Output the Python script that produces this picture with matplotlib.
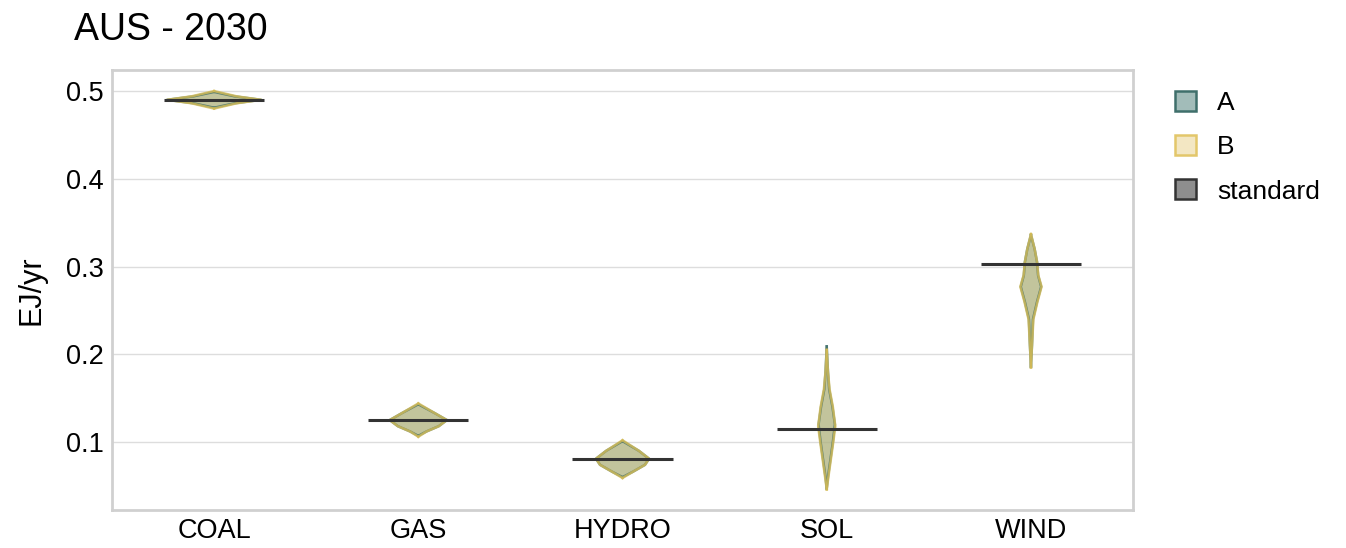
import matplotlib
matplotlib.use("Agg")
import matplotlib.pyplot as plt
from matplotlib.patches import Patch

categories = ["COAL", "GAS", "HYDRO", "SOL", "WIND"]
standard = [0.490, 0.125, 0.081, 0.115, 0.303]
# violin outlines: (value, half-width in category units)
profile_A = {
    "COAL": [(0.481, 0.0), (0.486, 0.10), (0.490, 0.23), (0.494, 0.10), (0.499, 0.0)],
    "GAS": [(0.107, 0.0), (0.112, 0.04), (0.118, 0.10), (0.125, 0.14), (0.133, 0.08), (0.143, 0.0)],
    "HYDRO": [(0.060, 0.0), (0.066, 0.05), (0.074, 0.11), (0.081, 0.13), (0.090, 0.08), (0.101, 0.0)],
    "SOL": [(0.047, 0.0), (0.060, 0.006), (0.080, 0.018), (0.100, 0.030), (0.120, 0.040),
            (0.140, 0.028), (0.160, 0.012), (0.180, 0.006), (0.209, 0.0)],
    "WIND": [(0.186, 0.0), (0.210, 0.005), (0.240, 0.010), (0.260, 0.030), (0.277, 0.050),
             (0.290, 0.035), (0.305, 0.030), (0.320, 0.018), (0.336, 0.0)],
}
profile_B = {
    "COAL": [(0.480, 0.0), (0.486, 0.11), (0.490, 0.23), (0.494, 0.11), (0.500, 0.0)],
    "GAS": [(0.106, 0.0), (0.112, 0.04), (0.118, 0.10), (0.125, 0.14), (0.133, 0.08), (0.144, 0.0)],
    "HYDRO": [(0.059, 0.0), (0.066, 0.05), (0.074, 0.11), (0.081, 0.13), (0.090, 0.08), (0.102, 0.0)],
    "SOL": [(0.046, 0.0), (0.060, 0.008), (0.080, 0.020), (0.100, 0.032), (0.118, 0.042),
            (0.140, 0.030), (0.160, 0.014), (0.180, 0.006), (0.205, 0.0)],
    "WIND": [(0.185, 0.0), (0.210, 0.005), (0.240, 0.012), (0.260, 0.032), (0.277, 0.052),
             (0.290, 0.036), (0.305, 0.030), (0.320, 0.018), (0.337, 0.0)],
}

plt.rcParams['font.family'] = ['Liberation Sans', 'DejaVu Sans']
fig = plt.figure(figsize=(13.46, 5.48), dpi=100)
ax = fig.add_axes([0.0832, 0.0693, 0.7586, 0.803])

def draw(profile, fc, ec, fa):
    for i, c in enumerate(categories):
        pts = profile[c]
        ys = [p[0] for p in pts]
        ws = [p[1] for p in pts]
        ax.fill_betweenx(ys, [i - w for w in ws], [i + w for w in ws],
                         facecolor=fc, alpha=fa, linewidth=0, zorder=3)
        ax.plot([i - w for w in ws], ys, color=ec, lw=1.8, zorder=3.5, alpha=0.8)
        ax.plot([i + w for w in ws], ys, color=ec, lw=1.8, zorder=3.5, alpha=0.8)

draw(profile_A, "#6f8f84", "#3f6f6b", 0.55)
draw(profile_B, "#d8c878", "#d4bb55", 0.45)
for i, v in enumerate(standard):
    ax.hlines(v, i - 0.245, i + 0.245, color="#333333", linewidth=2.2, zorder=4)

ax.set_xlim(-0.5, 4.5)
ax.set_ylim(0.0225, 0.524)
ax.set_xticks(range(len(categories)))
ax.set_xticklabels(categories, fontsize=19.5)
ax.set_yticks([0.1, 0.2, 0.3, 0.4, 0.5])
ax.set_yticklabels(["0.1", "0.2", "0.3", "0.4", "0.5"], fontsize=19.5)
ax.tick_params(length=0, pad=6)
ax.grid(axis="y", color="#dddddd", linewidth=1)
ax.set_axisbelow(True)
for s in ax.spines.values():
    s.set_color("#d0d0d0")
    s.set_linewidth(2)
ax.set_ylabel("EJ/yr", fontsize=22, labelpad=14)
fig.text(0.055, 0.945, "AUS - 2030", fontsize=27, va="center")

handles = [Patch(facecolor="#a2bcb9", edgecolor="#3f6f6b", linewidth=1.8, label="A"),
           Patch(facecolor="#f3e7c3", edgecolor="#e3c76a", linewidth=1.8, label="B"),
           Patch(facecolor="#8e8e8e", edgecolor="#333333", linewidth=1.8, label="standard")]
fig.legend(handles=handles, loc="upper left", bbox_to_anchor=(0.855, 0.877), frameon=False,
           prop={'size': 19}, handlelength=0.8, handleheight=0.8,
           labelspacing=0.75, handletextpad=0.8)
fig.savefig("out.png", dpi=100)
